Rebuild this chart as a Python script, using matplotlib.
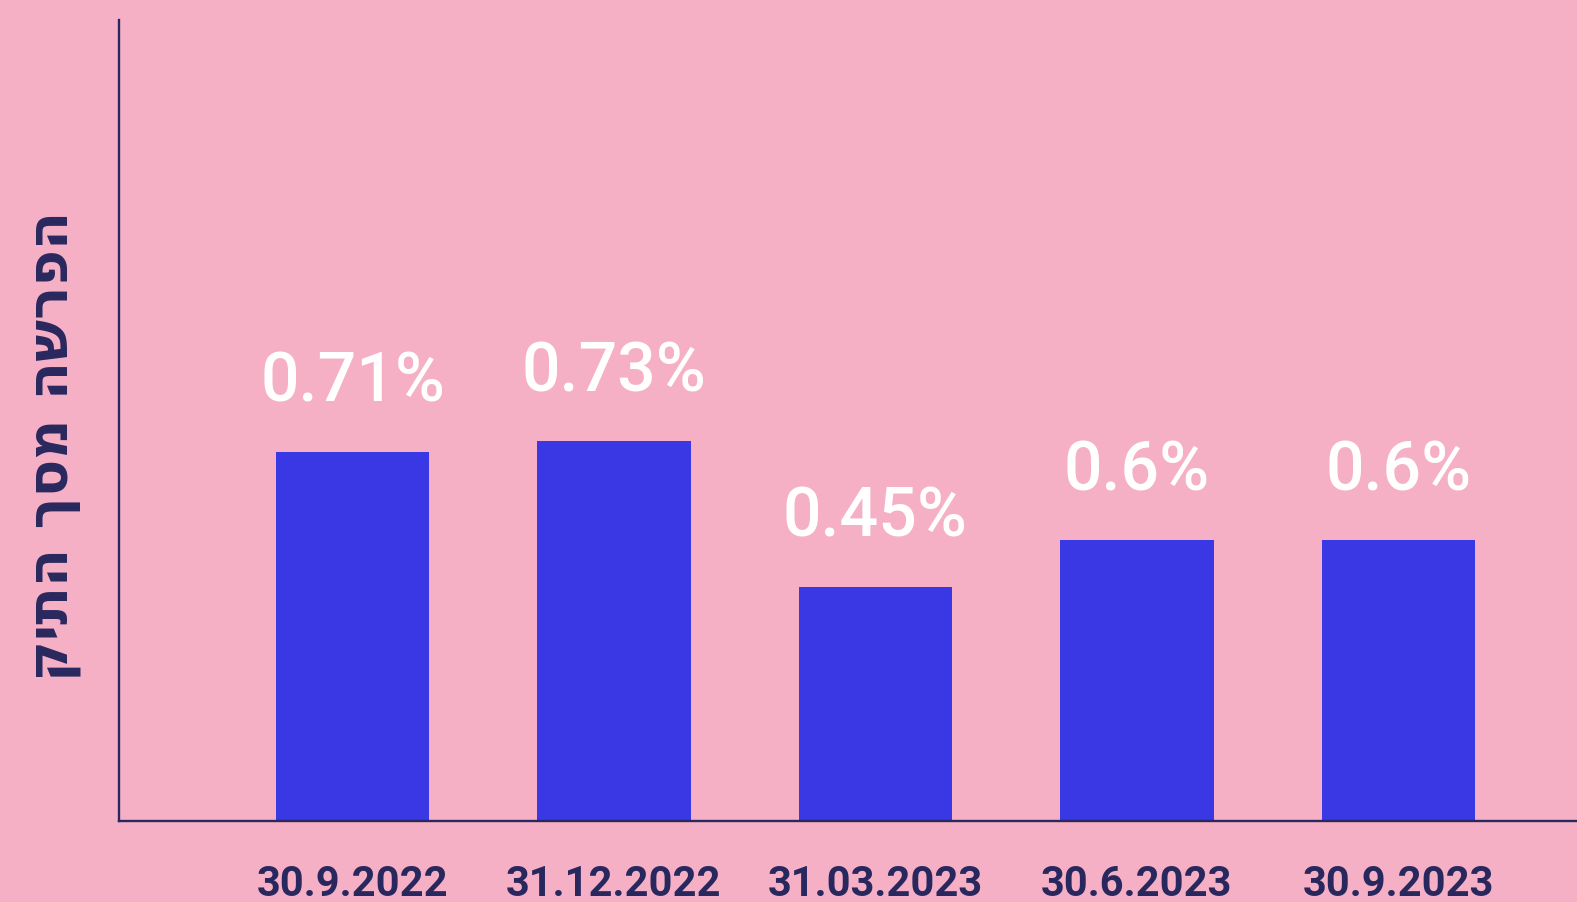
import matplotlib
matplotlib.use("Agg")
import matplotlib.pyplot as plt
from matplotlib import font_manager as fm

# ---- data ----
categories = ["30.9.2022", "31.12.2022", "31.03.2023", "30.6.2023", "30.9.2023"]
bar_heights = [0.71, 0.73, 0.45, 0.54, 0.54]   # bar heights as drawn in the picture
value_labels = ["0.71%", "0.73%", "0.45%", "0.6%", "0.6%"]
y_title = "הפרשה מסך התיק"

# ---- style ----
BG = "#F6B0C6"
BAR = "#3A37E5"
NAVY = "#29285E"

available = {f.name for f in fm.fontManager.ttflist}
def pick(*names):
    for n in names:
        if n in available:
            return n
    return "DejaVu Sans"

num_font = pick("Roboto", "Lato", "Open Sans", "DejaVu Sans")
heb_font = pick("DejaVu Sans", "Liberation Sans")

fig = plt.figure(figsize=(15.77, 9.02), dpi=100, facecolor=BG)
ax = fig.add_axes([118.7 / 1577, 1 - 821 / 902, 1 - 118.7 / 1577, (821 - 20) / 902])
ax.set_facecolor(BG)

x = list(range(len(categories)))
bars = ax.bar(x, bar_heights, width=0.588, color=BAR, zorder=2)

ax.set_xlim(-0.894, 4.683)
ax.set_ylim(0, 1.54)

for xi, h, lab in zip(x, bar_heights, value_labels):
    ax.annotate(lab, (xi, h), xytext=(0, 50), textcoords="offset pixels",
                ha="center", va="baseline", color="white", fontsize=49,
                fontfamily=num_font, fontweight="medium")

ax.set_xticks(x)
ax.set_xticklabels(categories, fontsize=30, fontfamily=num_font,
                   fontweight="bold", color=NAVY)
ax.tick_params(axis="x", length=0, pad=31)
ax.set_yticks([])

for s in ("top", "right"):
    ax.spines[s].set_visible(False)
for s in ("left", "bottom"):
    ax.spines[s].set_color(NAVY)
    ax.spines[s].set_linewidth(1.7)

# Hebrew label: reverse characters for visual RTL order
fig.text(54 / 1577, 1 - 446 / 902, y_title[::-1], rotation=90,
         ha="center", va="center", fontsize=40, fontweight="bold",
         color=NAVY, fontfamily=heb_font)

fig.savefig("out.png", dpi=100, facecolor=BG)
